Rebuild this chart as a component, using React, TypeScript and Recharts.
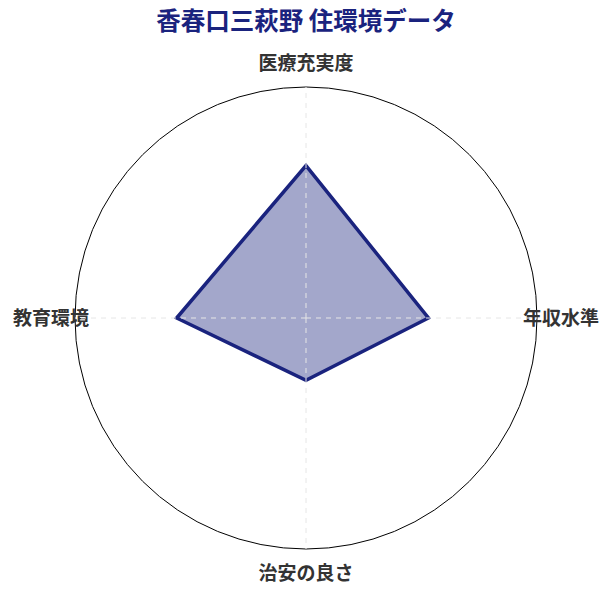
import React from 'react';
import { RadarChart, Radar, PolarGrid, PolarAngleAxis, PolarRadiusAxis } from 'recharts';

const categories = ['医療充実度', '年収水準', '治安の良さ', '教育環境'];
const scores = [66, 53, 27, 56];
const title = '香春口三萩野 住環境データ';

const data = categories.map((c, i) => ({ subject: c, value: scores[i] }));

const W = 612;
const H = 595;
const CX = 306;
const CY = 318;
const R = 231;
const LABEL_R = 255;
const FONT = '"Noto Sans CJK JP", "Noto Sans", sans-serif';

const Tick = (props: any) => {
  const { x, y, payload } = props;
  const cx = props.cx ?? CX;
  const cy = props.cy ?? CY;
  const dx = x - cx;
  const dy = y - cy;
  const d = Math.hypot(dx, dy) || 1;
  const tx = cx + (dx / d) * LABEL_R;
  const ty = cy + (dy / d) * LABEL_R - 2;
  return (
    <text
      x={tx}
      y={ty}
      textAnchor="middle"
      dominantBaseline="central"
      fontFamily={FONT}
      fontWeight={700}
      fontSize={19}
      fill="#333333"
    >
      {payload.value}
    </text>
  );
};

export default function App() {
  return (
    <div style={{ position: 'absolute', left: 0, top: 0, width: W, height: H, background: '#fff' }}>
      <div
        style={{
          position: 'absolute',
          left: 0,
          top: 5,
          width: W,
          textAlign: 'center',
          fontFamily: FONT,
          fontWeight: 700,
          fontSize: 24.5,
          lineHeight: '30px',
          color: '#1a237e',
        }}
      >
        {title}
      </div>
      <RadarChart width={W} height={H} cx={CX} cy={CY} outerRadius={R} data={data}>
        <PolarAngleAxis
          dataKey="subject"
          axisLineType="circle"
          axisLine={{ stroke: '#000000', strokeWidth: 1 }}
          tickLine={false}
          tick={Tick}
        />
        <PolarRadiusAxis domain={[0, 100]} tick={false} axisLine={false} />
        <Radar
          dataKey="value"
          stroke="#1a237e"
          strokeWidth={3.5}
          fill="#1a237e"
          fillOpacity={0.4}
          isAnimationActive={false}
        />
        <PolarGrid
          gridType="circle"
          polarRadius={[]}
          stroke="#e6e6e6"
          strokeDasharray="5 5"
          {...({ zIndex: 1000 } as any)}
        />
      </RadarChart>
    </div>
  );
}
